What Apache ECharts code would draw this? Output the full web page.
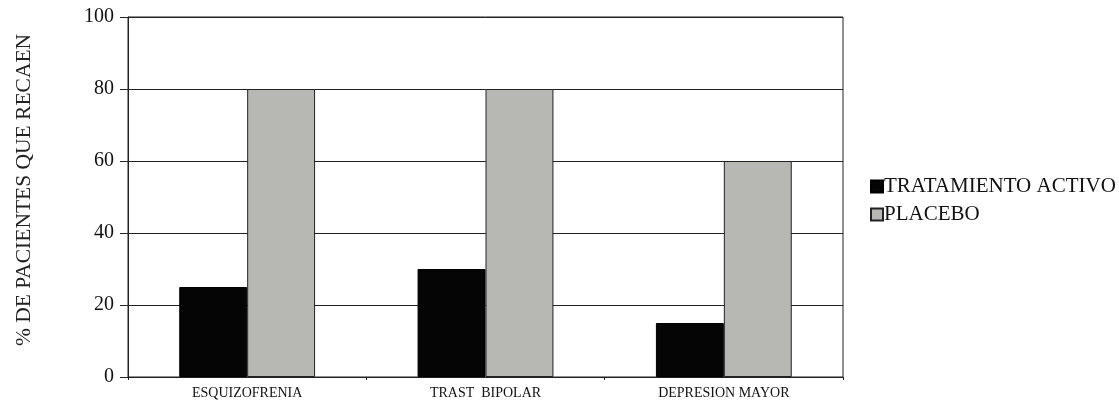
<!DOCTYPE html>
<html><head><meta charset="utf-8">
<script src="https://cdn.jsdelivr.net/npm/echarts@6/dist/echarts.min.js"></script>
<style>html,body{margin:0;padding:0;background:#fff}#c{width:1119px;height:401px}</style>
</head><body><div id="c"></div>
<script>
const categories = ['ESQUIZOFRENIA', 'TRAST  BIPOLAR', 'DEPRESION MAYOR'];
const activo = [25, 30, 15];
const placebo = [80, 80, 60];
const yTicks = [0, 20, 40, 60, 80, 100];
const seriesNames = ['TRATAMIENTO ACTIVO', 'PLACEBO'];

const chart = echarts.init(document.getElementById('c'), null, {renderer: 'canvas'});
const serif = 'Liberation Serif';
chart.setOption({
  animation: false,
  textStyle: {fontFamily: serif},
  grid: {left: 128, right: 276, top: 17, bottom: 24, show: true, borderColor: '#222', borderWidth: 1},
  legend: {
    orient: 'vertical', left: 865, top: 171, itemWidth: 12, itemHeight: 12, itemGap: 7,
    icon: 'rect',
    textStyle: {fontFamily: serif, fontSize: 21, color: '#111', padding: [0, 0, 0, -4]},
    data: seriesNames
  },
  xAxis: {
    type: 'category', data: categories,
    axisLine: {lineStyle: {color: '#222'}},
    axisTick: {show: true, length: 3, lineStyle: {color: '#222'}},
    axisLabel: {fontFamily: serif, fontSize: 14, color: '#111', margin: 9}
  },
  yAxis: {
    type: 'value', min: 0, max: 100, interval: 20,
    name: '% DE PACIENTES QUE RECAEN', nameLocation: 'middle', nameGap: 93, nameRotate: 90,
    nameTextStyle: {fontFamily: serif, fontSize: 21.5, color: '#222', padding: [0, 0, 0, 14]},
    axisLine: {show: true, lineStyle: {color: '#222'}},
    axisTick: {show: true, length: 8, lineStyle: {color: '#222'}},
    axisLabel: {fontFamily: serif, fontSize: 20, color: '#111', margin: 14,
      formatter: v => yTicks.includes(v) ? String(v) : ''},
    splitLine: {show: true, lineStyle: {color: '#222', width: 1}}
  },
  series: [
    {name: seriesNames[0], type: 'bar', data: activo, barGap: '0%', barCategoryGap: '43%',
      itemStyle: {color: '#050505', borderColor: '#000', borderWidth: 1}},
    {name: seriesNames[1], type: 'bar', data: placebo,
      itemStyle: {color: '#b7b7b3', borderColor: '#222', borderWidth: 1}}
  ]
});
</script></body></html>
